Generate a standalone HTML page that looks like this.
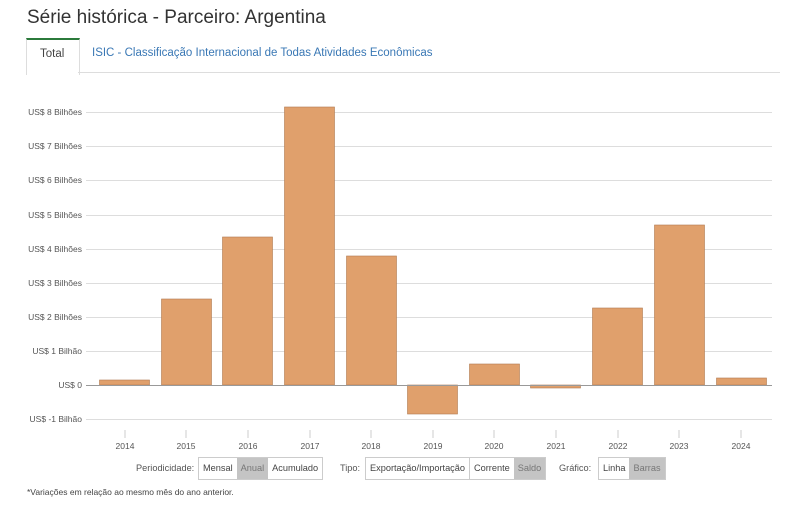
<!DOCTYPE html>
<html><head><meta charset="utf-8"><style>
body{margin:0;width:798px;height:509px;background:#fff;font-family:"Liberation Sans",Arial,sans-serif;position:relative;overflow:hidden}
.t{position:absolute;white-space:nowrap}
.btn{position:absolute;top:457px;height:21px;border:1px solid #ccc;font-size:9.2px;color:#444;display:flex}
.btn span{padding:0 4px;line-height:21px}
.on{background:#c4c4c4;color:#777}
</style></head><body>
<div class="t" style="left:27px;top:7px;font-size:19px;color:#333">Série histórica - Parceiro: Argentina</div>
<div style="position:absolute;left:26px;top:38px;width:52px;height:35px;border-top:2px solid #2b7a3b;border-left:1px solid #ddd;border-right:1px solid #ddd;background:#fff"></div>
<div style="position:absolute;left:78px;top:72px;width:702px;height:1px;background:#ddd"></div>
<div class="t" style="left:40px;top:48px;font-size:11.5px;color:#444">Total</div>
<div class="t" style="left:92px;top:47px;font-size:11.5px;color:#3a78b5">ISIC - Classificação Internacional de Todas Atividades Econômicas</div>
<svg style="position:absolute;left:0;top:0" width="798" height="509">
<g stroke="#ddd" stroke-width="1">
<line x1="86" x2="772" y1="112.5" y2="112.5"/><line x1="86" x2="772" y1="146.5" y2="146.5"/>
<line x1="86" x2="772" y1="180.5" y2="180.5"/><line x1="86" x2="772" y1="215.5" y2="215.5"/>
<line x1="86" x2="772" y1="249.5" y2="249.5"/><line x1="86" x2="772" y1="283.5" y2="283.5"/>
<line x1="86" x2="772" y1="317.5" y2="317.5"/><line x1="86" x2="772" y1="351.5" y2="351.5"/>
<line x1="86" x2="772" y1="419.5" y2="419.5"/>
</g>
<g font-size="8.5" fill="#555" text-anchor="end">
<text x="82" y="115">US$ 8 Bilhões</text><text x="82" y="149">US$ 7 Bilhões</text>
<text x="82" y="183">US$ 6 Bilhões</text><text x="82" y="218">US$ 5 Bilhões</text>
<text x="82" y="252">US$ 4 Bilhões</text><text x="82" y="286">US$ 3 Bilhões</text>
<text x="82" y="320">US$ 2 Bilhões</text><text x="82" y="354">US$ 1 Bilhão</text>
<text x="82" y="388">US$ 0</text><text x="82" y="422">US$ -1 Bilhão</text>
</g>
<g fill="#e0a06c" stroke="#b07a50" stroke-width="0.6">
<rect x="99.5" y="380" width="50" height="5"/>
<rect x="161.5" y="299" width="50" height="86"/>
<rect x="222.5" y="237" width="50" height="148"/>
<rect x="284.5" y="107" width="50" height="278"/>
<rect x="346.5" y="256" width="50" height="129"/>
<rect x="407.5" y="385" width="50" height="29"/>
<rect x="469.5" y="364" width="50" height="21"/>
<rect x="530.5" y="385" width="50" height="3"/>
<rect x="592.5" y="308" width="50" height="77"/>
<rect x="654.5" y="225" width="50" height="160"/>
<rect x="716.5" y="378" width="50" height="7"/>
</g>
<line x1="86" x2="772" y1="385.5" y2="385.5" stroke="#999"/>
<g stroke="#ccc"><line x1="125" x2="125" y1="430" y2="438"/><line x1="186" x2="186" y1="430" y2="438"/><line x1="248" x2="248" y1="430" y2="438"/><line x1="310" x2="310" y1="430" y2="438"/><line x1="371" x2="371" y1="430" y2="438"/><line x1="433" x2="433" y1="430" y2="438"/><line x1="494" x2="494" y1="430" y2="438"/><line x1="556" x2="556" y1="430" y2="438"/><line x1="618" x2="618" y1="430" y2="438"/><line x1="679" x2="679" y1="430" y2="438"/><line x1="741" x2="741" y1="430" y2="438"/></g>
<g font-size="8.5" fill="#555" text-anchor="middle">
<text x="125" y="449">2014</text><text x="186" y="449">2015</text><text x="248" y="449">2016</text><text x="310" y="449">2017</text><text x="371" y="449">2018</text><text x="433" y="449">2019</text><text x="494" y="449">2020</text><text x="556" y="449">2021</text><text x="618" y="449">2022</text><text x="679" y="449">2023</text><text x="741" y="449">2024</text>
</g>
</svg>
<div class="t" style="left:136px;top:463px;font-size:9.2px;color:#555">Periodicidade:</div>
<div class="btn" style="left:198px"><span>Mensal</span><span class="on">Anual</span><span>Acumulado</span></div>
<div class="t" style="left:340px;top:463px;font-size:9.2px;color:#555">Tipo:</div>
<div class="btn" style="left:365px"><span>Exportação/Importação</span><span style="border-left:1px solid #ccc">Corrente</span><span class="on">Saldo</span></div>
<div class="t" style="left:559px;top:463px;font-size:9.2px;color:#555">Gráfico:</div>
<div class="btn" style="left:598px"><span>Linha</span><span class="on">Barras</span></div>
<div class="t" style="left:27px;top:487px;font-size:8.5px;color:#444">*Variações em relação ao mesmo mês do ano anterior.</div>
</body></html>
